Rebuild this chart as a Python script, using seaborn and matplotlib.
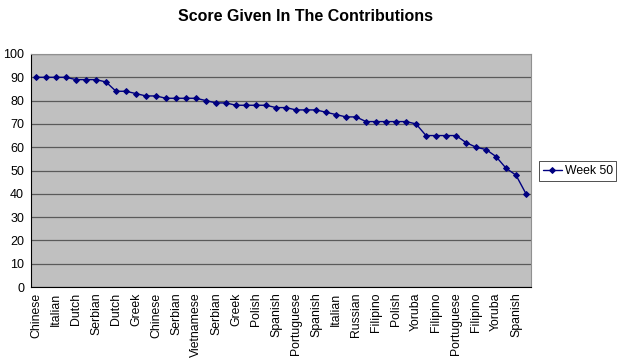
import matplotlib
matplotlib.use("Agg")
import matplotlib.pyplot as plt
import seaborn as sns
import numpy as np
import pandas as pd
from matplotlib.ticker import FixedLocator, MultipleLocator

# Data
scores = [90, 90, 90, 90, 89, 89, 89, 88, 84, 84,
          83, 82, 82, 81, 81, 81, 81, 80, 79, 79,
          78, 78, 78, 78, 77, 77, 76, 76, 76, 75,
          74, 73, 73, 71, 71, 71, 71, 71, 70, 65,
          65, 65, 65, 62, 60, 59, 56, 51, 48, 40]

# only every other category label is shown on the axis
shown_labels = ["Chinese", "Italian", "Dutch", "Serbian", "Dutch", "Greek",
                "Chinese", "Serbian", "Vietnamese", "Serbian", "Greek",
                "Polish", "Spanish", "Portuguese", "Spanish", "Italian",
                "Russian", "Filipino", "Polish", "Yoruba", "Filipino",
                "Portuguese", "Filipino", "Yoruba", "Spanish"]

series_name = "Week 50"

df = pd.DataFrame({"pos": np.arange(len(scores)), "score": scores})

sns.set_style("white")
plt.rcParams["font.family"] = ["Liberation Sans", "DejaVu Sans"]
plt.rcParams["text.color"] = "black"
plt.rcParams["xtick.color"] = "black"
plt.rcParams["ytick.color"] = "black"

fig = plt.figure(figsize=(6.18, 3.62), dpi=100)
ax = fig.add_axes([31 / 618, 1 - 287 / 362, 500 / 618, 233 / 362])
ax.set_facecolor("#c0c0c0")

sns.lineplot(data=df, x="pos", y="score", ax=ax, color="#000080",
             marker="D", markersize=3.0, markeredgecolor="#000080",
             linewidth=1.0, label=series_name, sort=False)

ax.set_xlim(-0.5, len(scores) - 0.5)
ax.set_ylim(0, 100)
ax.yaxis.set_major_locator(MultipleLocator(10))
ax.grid(axis="y", color="#5a5a5a", linewidth=0.9)
ax.set_axisbelow(True)

ax.set_xticks(np.arange(0, len(scores), 2))
ax.set_xticklabels(shown_labels, rotation=90, fontsize=8.8)
ax.tick_params(axis="x", length=0, pad=4)
ax.xaxis.set_minor_locator(FixedLocator(np.arange(-0.5, len(scores), 1)))
ax.tick_params(axis="x", which="minor", length=3, color="#000000", direction="out")
ax.tick_params(axis="y", labelsize=9, length=3, direction="out", color="#000000", pad=2)

ax.set_xlabel("")
ax.set_ylabel("")

for s in ["top", "right"]:
    ax.spines[s].set_color("#909090")
    ax.spines[s].set_linewidth(0.8)
for s in ["left", "bottom"]:
    ax.spines[s].set_color("#000000")
    ax.spines[s].set_linewidth(0.8)

fig.suptitle("Score Given In The Contributions", x=305 / 618, y=1 - 9 / 362,
             fontsize=11.5, fontweight="bold", va="top")

leg = ax.legend(loc="center left", bbox_to_anchor=(539 / 618, 1 - 171 / 362),
                bbox_transform=fig.transFigure, fontsize=8.8, frameon=True,
                fancybox=False, edgecolor="#000000", handlelength=1.6,
                handletextpad=0.2, borderpad=0.3, borderaxespad=0)
leg.get_frame().set_linewidth(0.6)

fig.savefig("out.png", dpi=100)
plt.close(fig)
